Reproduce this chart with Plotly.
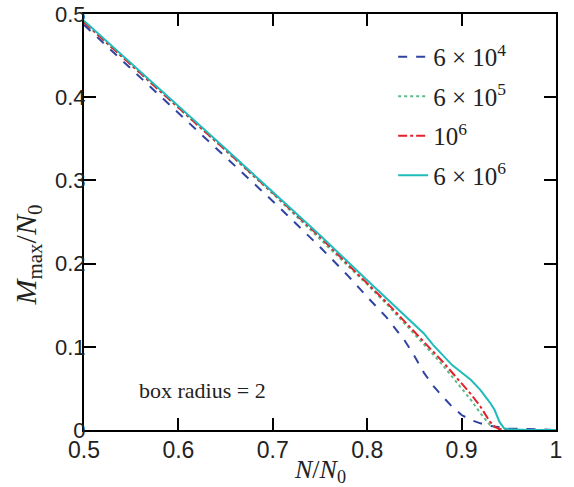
import plotly.graph_objects as go

# Data
x_blue = [0.5, 0.55, 0.6, 0.65, 0.7, 0.75, 0.78, 0.8, 0.82, 0.84, 0.85, 0.86, 0.87, 0.88, 0.89, 0.9, 0.91, 0.92, 0.93, 0.95, 0.97, 1.0]
y_blue = [0.487, 0.434, 0.381, 0.328, 0.275, 0.220, 0.185, 0.160, 0.136, 0.107, 0.089, 0.069, 0.053, 0.040, 0.028, 0.018, 0.012, 0.008, 0.005, 0.002, 0.001, 0.0]

x_green = [0.5, 0.55, 0.6, 0.65, 0.7, 0.75, 0.8, 0.82, 0.84, 0.86, 0.88, 0.9, 0.91, 0.92, 0.93, 0.94, 0.96, 1.0]
y_green = [0.490, 0.439, 0.388, 0.336, 0.284, 0.230, 0.175, 0.152, 0.128, 0.103, 0.078, 0.050, 0.036, 0.020, 0.006, 0.001, 0.0, 0.0]

x_red = [0.5, 0.55, 0.6, 0.65, 0.7, 0.75, 0.8, 0.82, 0.84, 0.86, 0.88, 0.9, 0.91, 0.92, 0.93, 0.935, 0.94, 0.96, 1.0]
y_red = [0.490, 0.439, 0.388, 0.337, 0.285, 0.232, 0.177, 0.154, 0.130, 0.106, 0.082, 0.056, 0.043, 0.028, 0.010, 0.004, 0.001, 0.0, 0.0]

x_cyan = [0.5, 0.55, 0.6, 0.65, 0.7, 0.75, 0.8, 0.82, 0.84, 0.86, 0.87, 0.88, 0.89, 0.9, 0.91, 0.92, 0.93, 0.935, 0.94, 0.945, 0.95, 0.97, 1.0]
y_cyan = [0.492, 0.441, 0.390, 0.338, 0.286, 0.234, 0.180, 0.159, 0.137, 0.116, 0.102, 0.090, 0.078, 0.069, 0.060, 0.048, 0.033, 0.024, 0.010, 0.002, 0.001, 0.0, 0.0]

names = ["6 × 10<sup>4</sup>", "6 × 10<sup>5</sup>", "10<sup>6</sup>", "6 × 10<sup>6</sup>"]
x_ticks = [0.5, 0.6, 0.7, 0.8, 0.9, 1.0]
x_labels = ["0.5", "0.6", "0.7", "0.8", "0.9", "1"]
y_ticks = [0, 0.1, 0.2, 0.3, 0.4, 0.5]
y_labels = ["0", "0.1", "0.2", "0.3", "0.4", "0.5"]

series = [
    (x_blue, y_blue, names[0], "#2f43a0", "dash"),
    (x_green, y_green, names[1], "#5dbb8c", "dot"),
    (x_red, y_red, names[2], "#e4202a", "dashdot"),
    (x_cyan, y_cyan, names[3], "#1fbcbc", "solid"),
]

fig = go.Figure()
for i, (xs, ys, nm, col, dash) in enumerate(series):
    fig.add_trace(go.Scatter(
        x=xs, y=ys, mode="lines", name=nm, legendgroup=str(i),
        line=dict(color=col, dash=dash, width=2),
    ))

serif = "Liberation Serif, DejaVu Serif, serif"
sans = "Liberation Sans, Arial, sans-serif"

fig.update_layout(
    width=574, height=487,
    margin=dict(l=84, r=18, t=14, b=57, autoexpand=False),
    paper_bgcolor="white", plot_bgcolor="white",
    showlegend=True,
    legend=dict(
        x=0.655, y=0.952, xanchor="left", yanchor="top",
        bgcolor="rgba(0,0,0,0)", borderwidth=0,
        font=dict(family=serif, size=25, color="#222"),
        tracegroupgap=4, itemwidth=30,
    ),
    xaxis=dict(
        range=[0.5, 1.0], tickvals=x_ticks, ticktext=x_labels,
        showline=True, linecolor="black", linewidth=2, mirror="ticks",
        ticks="inside", ticklen=12, tickwidth=1.5, tickcolor="black",
        showgrid=False, zeroline=False, ticklabelstandoff=-2, automargin=False,
        tickfont=dict(family=sans, size=23, color="#222"),
    ),
    yaxis=dict(
        range=[0, 0.5], tickvals=y_ticks, ticktext=y_labels,
        showline=True, linecolor="black", linewidth=2, mirror="ticks",
        ticks="inside", ticklen=12, tickwidth=1.5, tickcolor="black",
        showgrid=False, zeroline=False, ticklabelstandoff=-8, automargin=False,
        tickfont=dict(family=sans, size=22, color="#222"),
    ),
    annotations=[
        dict(text="<i>N</i>/<i>N</i><sub>0</sub>", xref="paper", yref="paper",
             x=0.5, y=-0.099, showarrow=False,
             font=dict(family=serif, size=26, color="#222"), xanchor="center", yanchor="middle"),
        dict(text="<i>M</i><sub>max</sub>/<i>N</i><sub>0</sub>", xref="paper", yref="paper",
             x=-0.118, y=0.42, textangle=-90, showarrow=False,
             font=dict(family=serif, size=30, color="#222"), xanchor="center", yanchor="middle"),
        dict(text="box radius = 2", xref="paper", yref="paper",
             x=0.252, y=0.095, showarrow=False,
             font=dict(family=serif, size=22, color="#222"), xanchor="center", yanchor="middle"),
    ],
)

fig.write_html("out.html")
